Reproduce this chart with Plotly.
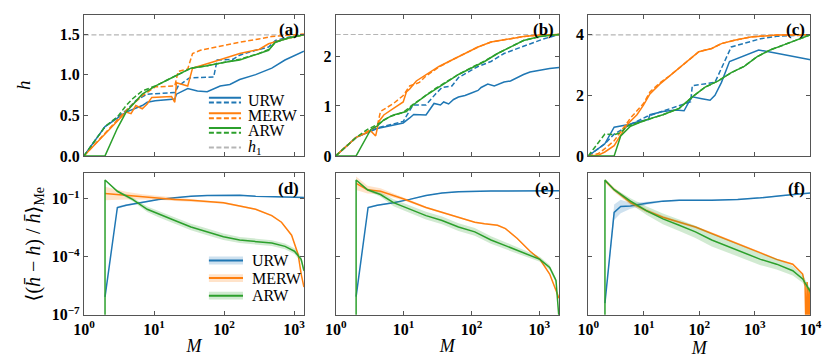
import plotly.graph_objects as go
from plotly.subplots import make_subplots

BLUE, ORANGE, GREEN, GREY = '#1f77b4', '#ff7f0e', '#2ca02c', '#b5b5b5'
BAND = {BLUE: 'rgba(31,119,180,0.22)', ORANGE: 'rgba(255,127,14,0.22)', GREEN: 'rgba(44,160,44,0.22)'}
DASH = '5px,2.5px'
SERIF = '"Liberation Serif", "Times New Roman", Times, "DejaVu Serif", serif'

# ---------- top row: h vs M (solid / dashed per walk) ----------
h1_vals = [1.49, 2.43, 4.0]
x_max_log = [3.14, 3.29, 4.0]
h_top = [1.74, 2.83, 4.67]

# (a)
a_M_urw = [1, 2, 4, 6.8, 8, 10.4, 19.8, 20.9, 30.3, 41.7, 57.4, 71, 88, 121, 167, 282, 480, 740, 1140, 1380]
a_h_urw = [0, 0.36, 0.54, 0.62, 0.66, 0.68, 0.70, 0.76, 0.83, 0.80, 0.79, 0.82, 0.86, 0.88, 0.94, 1.0, 1.08, 1.18, 1.26, 1.29]
a_M_urw_d = [1, 2, 4, 5.5, 8, 19.8, 22.1, 32, 71, 79.6, 135, 167, 282, 432, 540, 824, 1380]
a_h_urw_d = [0, 0.36, 0.56, 0.68, 0.76, 0.78, 0.86, 0.96, 0.97, 1.18, 1.19, 1.24, 1.30, 1.34, 1.42, 1.46, 1.49]
a_M_merw = [1, 4, 4.7, 5.5, 6.8, 8, 9.3, 17.8, 19.8, 20.9, 30.3, 35.5, 71, 167, 315, 432, 740, 1380]
a_h_merw = [0, 0.54, 0.52, 0.62, 0.58, 0.64, 0.72, 0.73, 0.66, 0.90, 0.86, 1.08, 1.16, 1.26, 1.31, 1.38, 1.44, 1.49]
a_M_merw_d = [1, 4, 6.8, 10.4, 19.8, 22.1, 30.3, 35.5, 45.8, 98, 167, 315, 480, 1380]
a_h_merw_d = [0, 0.56, 0.74, 0.85, 0.86, 1.04, 1.07, 1.26, 1.30, 1.36, 1.40, 1.44, 1.47, 1.50]
a_M_arw = [1, 2, 3, 4, 6.8, 10.4, 19.8, 33.7, 57.4, 98, 167, 315, 432, 540, 824, 1380]
a_h_arw = [0, 0, 0.34, 0.54, 0.76, 0.86, 0.98, 1.08, 1.11, 1.15, 1.18, 1.26, 1.30, 1.40, 1.45, 1.49]
a_M_arw_d = [1, 2, 3, 4, 4.9, 6.8, 10.4, 19.8, 33.7, 57.4, 98, 167, 315, 432, 540, 824, 1380]
a_h_arw_d = [0, 0.36, 0.48, 0.62, 0.70, 0.80, 0.86, 0.98, 1.08, 1.11, 1.15, 1.19, 1.26, 1.31, 1.40, 1.45, 1.49]

# (b)
b_M_urw = [1, 2, 4.1, 6.36, 9.88, 12.3, 14.1, 21.4, 28.1, 34.9, 39, 46.1, 54.5, 64.4, 80.3, 100, 125, 139, 174, 217, 302, 376, 469, 585, 730, 1020, 1420, 1950]
b_h_urw = [0, 0.37, 0.55, 0.60, 0.66, 0.76, 0.83, 0.82, 1.05, 1.02, 1.08, 1.04, 1.13, 1.18, 1.21, 1.26, 1.31, 1.37, 1.44, 1.40, 1.48, 1.50, 1.57, 1.63, 1.68, 1.72, 1.75, 1.77]
b_M_urw_d = [1, 2, 4.1, 9.88, 13.8, 21.4, 29.6, 36.9, 51.5, 64.4, 125, 194, 302, 469, 730, 1140, 1950]
b_h_urw_d = [0, 0.37, 0.56, 0.69, 1.02, 1.02, 1.24, 1.37, 1.40, 1.57, 1.79, 1.89, 2.05, 2.15, 2.25, 2.34, 2.43]
b_M_merw = [1, 2, 3.29, 3.88, 4.33, 5.11, 7.11, 9.88, 11, 12.3, 15.4, 21.4, 33.2, 51.5, 80.3, 125, 194, 337, 585, 1020, 1950]
b_h_merw = [0, 0.37, 0.50, 0.40, 0.69, 0.82, 0.95, 1.08, 1.28, 1.34, 1.50, 1.63, 1.79, 1.92, 2.05, 2.18, 2.28, 2.34, 2.39, 2.42, 2.43]
b_M_merw_d = [1, 2, 4.1, 4.57, 7.11, 9.88, 12.3, 17.1, 21.4, 33.2, 51.5, 80.3, 125, 194, 337, 585, 1020, 1950]
b_h_merw_d = [0, 0.37, 0.60, 0.89, 1.05, 1.21, 1.40, 1.47, 1.60, 1.78, 1.92, 2.05, 2.18, 2.28, 2.34, 2.39, 2.42, 2.43]
b_M_arw = [1, 2, 3.29, 4.1, 5.11, 7.11, 11, 13.8, 21.4, 29.6, 46.1, 64.4, 100, 156, 242, 376, 585, 1020, 1950]
b_h_arw = [0, 0, 0.53, 0.60, 0.72, 0.82, 0.89, 1.02, 1.21, 1.34, 1.50, 1.63, 1.76, 1.89, 2.05, 2.18, 2.31, 2.39, 2.43]
b_M_arw_d = [1, 2, 2.94, 4.1, 6.36, 9.88, 13.8, 21.4, 29.6, 46.1, 64.4, 100, 156, 242, 376, 585, 1020, 1950]
b_h_arw_d = [0, 0.37, 0.53, 0.63, 0.79, 0.87, 1.03, 1.22, 1.35, 1.51, 1.63, 1.77, 1.90, 2.05, 2.18, 2.31, 2.39, 2.43]

# (c)
c_M_urw = [1, 1.99, 2.93, 5.38, 8.07, 12.1, 12.9, 22.1, 38, 53.1, 65.2, 74.7, 111, 156, 191, 250, 349, 491, 839, 1170, 2460, 4800, 10000]
c_h_urw = [0, 0.40, 0.95, 1.04, 1.14, 1.20, 1.36, 1.47, 1.52, 1.49, 1.79, 1.95, 1.89, 1.84, 2.0, 2.43, 3.12, 3.23, 3.39, 3.50, 3.39, 3.28, 3.18]
c_M_urw_d = [1, 1.99, 2.93, 5.76, 11.3, 25.3, 43.4, 69.8, 74.7, 167, 191, 375, 642, 1260, 2460, 10000]
c_h_urw_d = [0, 0.40, 0.72, 1.04, 1.30, 1.52, 1.68, 1.79, 2.32, 2.41, 2.43, 3.60, 3.71, 3.87, 3.95, 4.0]
c_M_merw = [1, 1.5, 1.99, 2.93, 5.03, 7.54, 9.87, 12.9, 19.4, 29, 43.4, 65.2, 97.8, 167, 250, 428, 839, 2460, 10000]
c_h_merw = [0, 0.02, 0.13, 0.34, 1.04, 1.36, 1.68, 2.05, 2.37, 2.64, 2.91, 3.18, 3.44, 3.55, 3.71, 3.82, 3.93, 3.99, 4.0]
c_M_merw_d = [1, 1.5, 1.99, 2.93, 5.76, 9.87, 12.9, 19.4, 29, 43.4, 65.2, 97.8, 167, 250, 428, 839, 2460, 10000]
c_h_merw_d = [0, 0.07, 0.24, 0.50, 1.25, 1.73, 2.11, 2.41, 2.64, 2.91, 3.18, 3.44, 3.55, 3.71, 3.82, 3.93, 3.99, 4.0]
c_M_arw = [1, 2.93, 3.84, 5.76, 11.3, 22.1, 43.4, 74.7, 127, 219, 375, 642, 1100, 1880, 3220, 5500, 10000]
c_h_arw = [0, 0, 0.66, 0.98, 1.20, 1.36, 1.57, 1.95, 2.27, 2.48, 2.75, 2.96, 3.28, 3.50, 3.66, 3.82, 4.0]
c_M_arw_d = [1, 1.99, 2.93, 3.84, 5.03, 11.3, 22.1, 43.4, 74.7, 127, 219, 375, 642, 1100, 1880, 3220, 5500, 10000]
c_h_arw_d = [0, 0.72, 0.70, 0.77, 0.98, 1.20, 1.36, 1.57, 1.95, 2.27, 2.48, 2.75, 2.96, 3.28, 3.50, 3.66, 3.82, 4.0]

# ---------- bottom row: log10 of relative error, with band half-width (decades) ----------
# (d)
d_M_urw = [2, 3, 4, 6.8, 11.6, 19.8, 33.7, 57.4, 98, 167, 282, 480, 920, 1380]
d_e_urw = [-6.07, -1.45, -1.33, -1.17, -1.03, -0.95, -0.87, -0.83, -0.82, -0.82, -0.87, -0.90, -0.92, -0.93]
d_w_urw = [0, 0.06, 0.05, 0.04, 0.03, 0.03, 0.03, 0.03, 0.03, 0.03, 0.03, 0.03, 0.03, 0.03]
d_M_merw = [2, 4, 6.8, 11.6, 19.8, 33.7, 57.4, 98, 167, 282, 480, 660, 920, 1140, 1260, 1380]
d_e_merw = [-0.73, -0.83, -0.90, -0.95, -1.03, -1.08, -1.15, -1.20, -1.37, -1.54, -1.87, -2.21, -2.88, -3.88, -4.89, -5.56]
d_w_merw = [0.35, 0.2, 0.14, 0.1, 0.08, 0.06, 0.05, 0.05, 0.04, 0.04, 0.04, 0.04, 0.04, 0.04, 0.04, 0.04]
d_M_arw = [2, 2, 3, 4, 4.94, 8, 11.6, 19.8, 33.7, 57.4, 98, 167, 282, 480, 740, 1010, 1260, 1380]
d_e_arw = [-9, -0.03, -0.61, -0.87, -1.03, -1.54, -1.79, -2.12, -2.46, -2.71, -2.96, -3.13, -3.21, -3.29, -3.46, -3.71, -4.13, -4.72]
d_w_arw = [0, 0.02, 0.05, 0.08, 0.1, 0.14, 0.16, 0.17, 0.17, 0.17, 0.17, 0.16, 0.15, 0.15, 0.15, 0.15, 0.15, 0.15]

# (e)
e_M_urw = [2, 3, 4.1, 7.11, 12.3, 21.4, 36.9, 64.4, 194, 585, 1950]
e_e_urw = [-6.06, -1.45, -1.33, -1.20, -1.03, -0.83, -0.70, -0.63, -0.60, -0.58, -0.58]
e_w_urw = [0, 0.05, 0.04, 0.03, 0.03, 0.03, 0.03, 0.03, 0.03, 0.03, 0.03]
e_M_merw = [2, 2.94, 4.57, 9.88, 21.4, 36.9, 64.4, 112, 156, 242, 317, 469, 730, 1020, 1420, 1950]
e_e_merw = [-0.20, -0.53, -0.61, -1.0, -1.45, -1.70, -1.95, -2.21, -2.29, -2.37, -2.54, -3.04, -3.71, -4.13, -4.89, -6.14]
e_w_merw = [0.35, 0.2, 0.15, 0.08, 0.05, 0.04, 0.04, 0.04, 0.04, 0.04, 0.04, 0.04, 0.04, 0.04, 0.04, 0.04]
e_M_arw = [2, 2, 2.94, 4.57, 7.11, 12.3, 21.4, 36.9, 64.4, 112, 194, 337, 585, 1020, 1420, 1760, 1950]
e_e_arw = [-9, -0.03, -0.53, -0.78, -1.20, -1.54, -1.87, -2.12, -2.46, -2.71, -3.13, -3.46, -3.80, -4.13, -4.55, -5.22, -7.2]
e_w_arw = [0, 0.02, 0.06, 0.12, 0.18, 0.2, 0.2, 0.2, 0.2, 0.2, 0.2, 0.18, 0.15, 0.13, 0.13, 0.13, 0.13]

# (f)
f_M_urw = [2, 2.93, 3.84, 5.76, 11.3, 22.1, 43.4, 167, 491, 1260, 3220, 10000]
f_e_urw = [-6.39, -1.70, -1.40, -1.37, -1.23, -1.12, -1.07, -1.07, -1.03, -0.95, -0.83, -0.70]
f_w_urw = [0, 0.4, 0.35, 0.15, 0.08, 0.05, 0.04, 0.03, 0.03, 0.03, 0.03, 0.03]
f_M_merw = [2, 2.93, 5.76, 11.3, 22.1, 43.4, 85, 167, 327, 642, 1260, 2460, 4800, 7240, 8000, 8300, 8700, 9000, 9400, 9700, 10000]
f_e_merw = [-0.06, -0.53, -1.20, -1.62, -1.95, -2.21, -2.46, -2.79, -3.13, -3.46, -3.80, -4.13, -4.38, -4.89, -5.5, -8, -5.3, -8, -5.6, -8, -5.8]
f_w_merw = [0.1, 0.12, 0.12, 0.1, 0.08, 0.07, 0.06, 0.06, 0.06, 0.05, 0.05, 0.05, 0.05, 0.05, 0, 0, 0, 0, 0, 0, 0]
f_M_arw = [2, 2, 2.93, 5.76, 11.3, 22.1, 43.4, 85, 167, 327, 642, 1260, 2460, 4800, 7240, 10000]
f_e_arw = [-9, -0.03, -0.53, -1.12, -1.62, -2.04, -2.37, -2.71, -3.13, -3.46, -3.80, -4.13, -4.38, -4.72, -5.14, -5.81]
f_w_arw = [0, 0.03, 0.08, 0.15, 0.22, 0.28, 0.3, 0.32, 0.33, 0.33, 0.33, 0.3, 0.28, 0.25, 0.2, 0.15]

legend_names = ['URW', 'MERW', 'ARW']
panel_tags = ['(a)', '(b)', '(c)', '(d)', '(e)', '(f)']

fig = make_subplots(rows=2, cols=3)


def line(M, y, color, row, col, dash='solid', width=1.5):
    fig.add_trace(go.Scatter(x=M, y=y, mode='lines', showlegend=False, hoverinfo='skip',
                             line=dict(color=color, dash=dash, width=width)), row=row, col=col)


def band_line(M, e, w, color, col):
    lo = [10 ** (v - d) for v, d in zip(e, w)]
    hi = [10 ** (v + d) for v, d in zip(e, w)]
    fig.add_trace(go.Scatter(x=M, y=lo, mode='lines', line=dict(width=0), showlegend=False,
                             hoverinfo='skip'), row=2, col=col)
    fig.add_trace(go.Scatter(x=M, y=hi, mode='lines', line=dict(width=0), fill='tonexty',
                             fillcolor=BAND[color], showlegend=False, hoverinfo='skip'), row=2, col=col)
    line(M, [10 ** v for v in e], color, 2, col)


top = [
    [(a_M_urw, a_h_urw, a_M_urw_d, a_h_urw_d), (a_M_merw, a_h_merw, a_M_merw_d, a_h_merw_d), (a_M_arw, a_h_arw, a_M_arw_d, a_h_arw_d)],
    [(b_M_urw, b_h_urw, b_M_urw_d, b_h_urw_d), (b_M_merw, b_h_merw, b_M_merw_d, b_h_merw_d), (b_M_arw, b_h_arw, b_M_arw_d, b_h_arw_d)],
    [(c_M_urw, c_h_urw, c_M_urw_d, c_h_urw_d), (c_M_merw, c_h_merw, c_M_merw_d, c_h_merw_d), (c_M_arw, c_h_arw, c_M_arw_d, c_h_arw_d)],
]
colors = [BLUE, ORANGE, GREEN]
for col, panel in enumerate(top, start=1):
    fig.add_trace(go.Scatter(x=[1, 10 ** x_max_log[col - 1]], y=[h1_vals[col - 1]] * 2, mode='lines',
                             line=dict(color=GREY, dash=DASH, width=1.2), showlegend=False,
                             hoverinfo='skip'), row=1, col=col)
    for (Ms, hs, Md, hd), c in zip(panel, colors):
        line(Ms, hs, c, 1, col)
        line(Md, hd, c, 1, col, dash=DASH)

bottom = [
    [(d_M_urw, d_e_urw, d_w_urw), (d_M_merw, d_e_merw, d_w_merw), (d_M_arw, d_e_arw, d_w_arw)],
    [(e_M_urw, e_e_urw, e_w_urw), (e_M_merw, e_e_merw, e_w_merw), (e_M_arw, e_e_arw, e_w_arw)],
    [(f_M_urw, f_e_urw, f_w_urw), (f_M_merw, f_e_merw, f_w_merw), (f_M_arw, f_e_arw, f_w_arw)],
]
for col, panel in enumerate(bottom, start=1):
    for (M, e, w), c in zip(panel, colors):
        band_line(M, e, w, c, col)

# --- axes / layout (pixel positions of the reference, 831 x 361) ---
W, H = 831, 361
xdom = [(66.7, 292.7), (325.3, 554.7), (584.7, 813.0)]
ydom = [(6.7, 151.7), (169.7, 314.7)]
tickfont = dict(family=SERIF, size=16, color='black', weight='bold')
axline = dict(showline=True, linecolor='#555', linewidth=1, mirror='ticks', ticks='inside',
              ticklen=4, tickcolor='#555', showgrid=False, zeroline=False)

layout = dict(width=W, height=H, margin=dict(l=0, r=0, t=0, b=0), plot_bgcolor='white',
              paper_bgcolor='white', showlegend=False, font=dict(family=SERIF))
top_ticks = [([0, 0.5, 1.0, 1.5], ['0.0', '0.5', '1.0', '1.5']), ([0, 1, 2], ['0', '1', '2']),
             ([0, 2, 4], ['0', '2', '4'])]
for r in range(2):
    for c in range(3):
        n = r * 3 + c + 1
        sfx = '' if n == 1 else str(n)
        nd = x_max_log[c]
        decades = list(range(0, int(nd) + 1))
        xa = dict(axline, type='log', range=[0, nd], anchor='y' + sfx,
                  domain=[xdom[c][0] / W, xdom[c][1] / W],
                  tickvals=[10 ** k for k in decades],
                  ticktext=['10<sup>%d</sup>' % k for k in decades], tickfont=tickfont)
        if r == 0:
            xa['showticklabels'] = False
        else:
            xa['title'] = dict(text='<i>M</i>', font=dict(family=SERIF, size=18, color='black'), standoff=2)
        ya = dict(axline, anchor='x' + sfx, domain=[1 - ydom[r][1] / H, 1 - ydom[r][0] / H], tickfont=tickfont)
        if r == 0:
            ya.update(range=[0, h_top[c]], tickvals=top_ticks[c][0], ticktext=top_ticks[c][1])
            if c == 0:
                ya['title'] = dict(text='<i>h</i>', font=dict(family=SERIF, size=19, color='black'), standoff=24)
        else:
            ya.update(type='log', range=[-7, 0.31], tickvals=[1e-7, 1e-4, 1e-1],
                      ticktext=['10<sup>\u22127</sup>', '10<sup>\u22124</sup>', '10<sup>\u22121</sup>'],
                      showticklabels=(c == 0))
            if c == 0:
                ya['title'] = dict(text='\u27e8(<i>h\u0304</i> \u2212 <i>h</i>) / <i>h\u0304</i>\u27e9<sub>Me</sub>',
                                   font=dict(family=SERIF, size=20, color='black'), standoff=5)
        layout['xaxis' + sfx] = xa
        layout['yaxis' + sfx] = ya
fig.update_layout(**layout)

# panel tags
for i, tag in enumerate(panel_tags):
    sfx = '' if i == 0 else str(i + 1)
    fig.add_annotation(text='<b>%s</b>' % tag, xref='x%s domain' % sfx, yref='y%s domain' % sfx,
                       x=0.985, y=0.975, xanchor='right', yanchor='top', showarrow=False,
                       font=dict(family=SERIF, size=17, color='black'))

# legend of panel (a): solid + dashed sample per walk, then h1
lx0, lx1, ltx = 0.568, 0.714, 0.737
rows_a = [(0.412, 0.377, 0.394), (0.301, 0.267, 0.284), (0.198, 0.163, 0.181)]
for (ys, yd, yt), c, name in zip(rows_a, colors, legend_names):
    fig.add_shape(type='line', xref='x domain', yref='y domain', x0=lx0, x1=lx1, y0=ys, y1=ys,
                  line=dict(color=c, width=2))
    fig.add_shape(type='line', xref='x domain', yref='y domain', x0=lx0, x1=lx1, y0=yd, y1=yd,
                  line=dict(color=c, width=2, dash=DASH))
    fig.add_annotation(text=name, xref='x domain', yref='y domain', x=ltx, y=yt, xanchor='left',
                       yanchor='middle', showarrow=False, font=dict(family=SERIF, size=16, color='black'))
fig.add_shape(type='line', xref='x domain', yref='y domain', x0=lx0, x1=lx1, y0=0.06, y1=0.06,
              line=dict(color=GREY, width=2, dash=DASH))
fig.add_annotation(text='<i>h</i><sub>1</sub>', xref='x domain', yref='y domain', x=ltx, y=0.06,
                   xanchor='left', yanchor='middle', showarrow=False,
                   font=dict(family=SERIF, size=16, color='black'))

# legend of panel (d): band patch + line
for yv, c, name in zip([0.384, 0.26, 0.136], colors, legend_names):
    fig.add_shape(type='rect', xref='x4 domain', yref='y4 domain', x0=lx0, x1=0.723, y0=yv - 0.028,
                  y1=yv + 0.028, fillcolor=BAND[c], line=dict(width=0))
    fig.add_shape(type='line', xref='x4 domain', yref='y4 domain', x0=lx0, x1=0.723, y0=yv, y1=yv,
                  line=dict(color=c, width=2))
    fig.add_annotation(text=name, xref='x4 domain', yref='y4 domain', x=0.754, y=yv, xanchor='left',
                       yanchor='middle', showarrow=False, font=dict(family=SERIF, size=16, color='black'))

fig.write_html('out.html')
